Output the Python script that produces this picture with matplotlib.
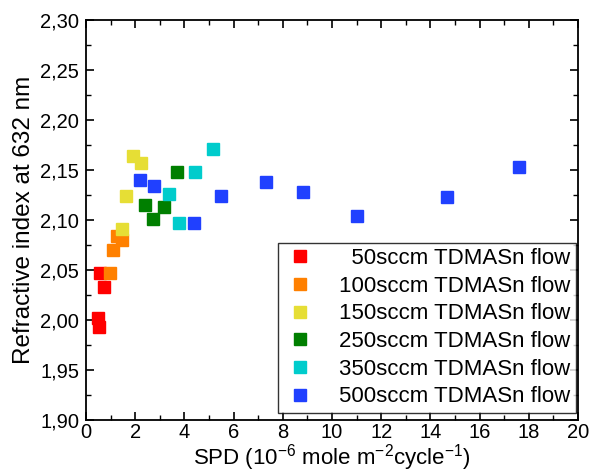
import matplotlib
matplotlib.use("Agg")
import matplotlib.pyplot as plt
from matplotlib.ticker import MultipleLocator, FuncFormatter

plt.rcParams['font.family'] = ['Liberation Sans', 'DejaVu Sans']
plt.rcParams['mathtext.fontset'] = 'custom'
plt.rcParams['mathtext.rm'] = 'Liberation Sans'
plt.rcParams['mathtext.it'] = 'Liberation Sans'
plt.rcParams['mathtext.default'] = 'regular'

# data
labels = ["50sccm TDMASn flow", "100sccm TDMASn flow", "150sccm TDMASn flow",
          "250sccm TDMASn flow", "350sccm TDMASn flow", "500sccm TDMASn flow"]
colors = ["#ff0000", "#ff8000", "#e6de35", "#007f00", "#00cccc", "#2040ff"]

spd_50 = [0.57, 0.74, 0.47, 0.54]
n_50 = [2.047, 2.033, 2.002, 1.993]
spd_100 = [0.98, 1.08, 1.27, 1.48]
n_100 = [2.047, 2.070, 2.084, 2.080]
spd_150 = [1.45, 1.63, 1.90, 2.22]
n_150 = [2.091, 2.124, 2.164, 2.157]
spd_250 = [2.41, 2.71, 3.17, 3.69]
n_250 = [2.115, 2.101, 2.113, 2.148]
spd_350 = [3.39, 3.79, 4.44, 5.16]
n_350 = [2.126, 2.097, 2.148, 2.171]
spd_500 = [2.20, 2.75, 4.40, 5.50, 7.32, 8.81, 11.0, 14.67, 17.6]
n_500 = [2.140, 2.134, 2.097, 2.124, 2.138, 2.128, 2.104, 2.123, 2.153]

xs = [spd_50, spd_100, spd_150, spd_250, spd_350, spd_500]
ys = [n_50, n_100, n_150, n_250, n_350, n_500]

fig = plt.figure(figsize=(5.92, 4.73), dpi=100)
ax = fig.add_axes([0.1453, 0.1121, 0.8311, 0.8456])

for x, y, c, lab in zip(xs, ys, colors, labels):
    ax.plot(x, y, ls='', marker='s', ms=8.6, color=c, mec=c, label=lab)

ax.set_xlim(0, 20)
ax.set_ylim(1.90, 2.30)
ax.xaxis.set_major_locator(MultipleLocator(2))
ax.xaxis.set_minor_locator(MultipleLocator(1))
ax.yaxis.set_major_locator(MultipleLocator(0.05))
ax.yaxis.set_minor_locator(MultipleLocator(0.025))
ax.yaxis.set_major_formatter(FuncFormatter(lambda v, p: ("%.2f" % v).replace('.', ',')))
ax.tick_params(which='both', direction='in', top=True, right=True, labelsize=14.5)
ax.tick_params(axis='x', pad=2)
ax.tick_params(axis='y', pad=5)
ax.tick_params(which='major', length=6, width=1.2)
ax.tick_params(which='minor', length=3.5, width=1.0)
for s in ax.spines.values():
    s.set_linewidth(1.3)

ax.set_xlabel("SPD (10$^{-6}$ mole m$^{-2}$cycle$^{-1}$)", fontsize=16, labelpad=0.5)
ax.set_ylabel("Refractive index at 632 nm", fontsize=17.5, labelpad=4)

leg = ax.legend(loc='lower right', bbox_to_anchor=(0.996, 0.0175), fontsize=16,
                frameon=True, fancybox=False, edgecolor='black', markerscale=1.0,
                handlelength=1.5, handletextpad=1.0, borderpad=0.25,
                labelspacing=0.3, borderaxespad=0.0)
leg.get_frame().set_linewidth(1.0)
# right-align the first label with a figure space
texts = leg.get_texts()
texts[0].set_text("\u2007" + labels[0])

fig.savefig("out.png", dpi=100)
